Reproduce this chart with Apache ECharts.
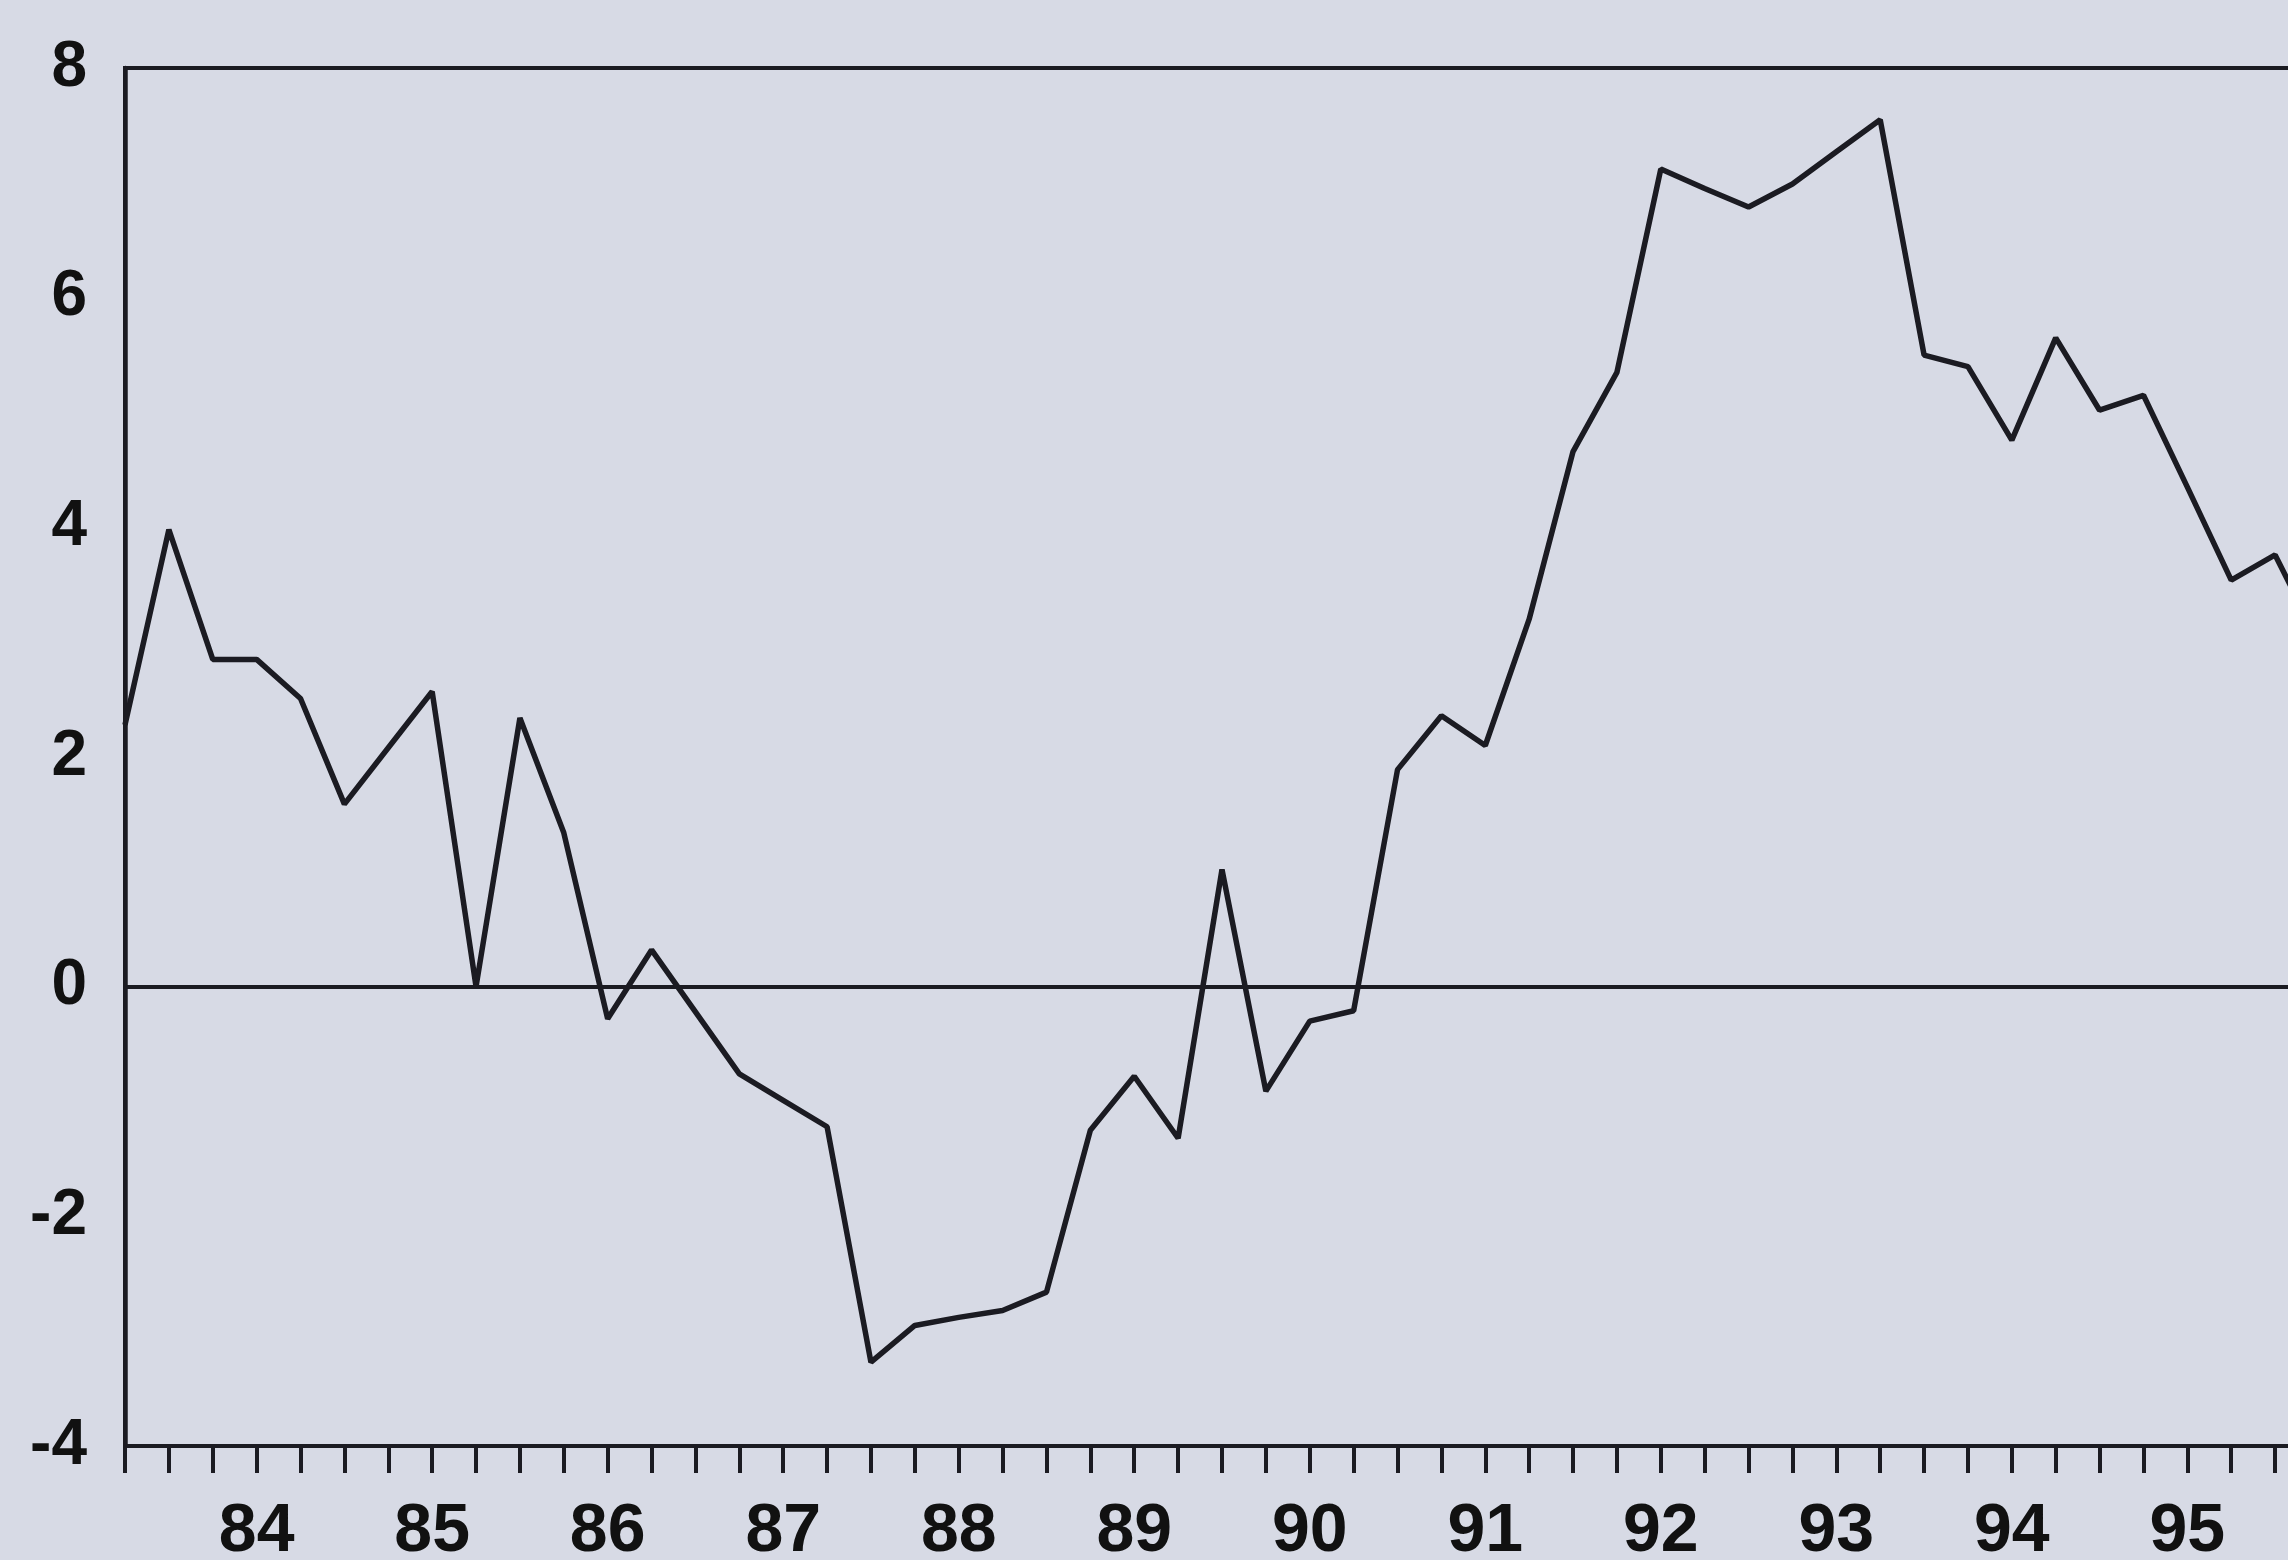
<!DOCTYPE html>
<html>
<head>
<meta charset="utf-8">
<style>
  html, body { margin: 0; padding: 0; background: #d7dae5; }
  #chart { width: 2288px; height: 1560px; }
</style>
<script src="https://cdn.jsdelivr.net/npm/echarts@6/dist/echarts.min.js"></script>
</head>
<body>
<div id="chart"></div>
<script>
// quarterly observations, 1983Q2 .. 1995Q4 (last one runs off the page)
const quarters = [
  '1983Q2', '1983Q3', '1983Q4',
  '1984Q1', '1984Q2', '1984Q3', '1984Q4',
  '1985Q1', '1985Q2', '1985Q3', '1985Q4',
  '1986Q1', '1986Q2', '1986Q3', '1986Q4',
  '1987Q1', '1987Q2', '1987Q3', '1987Q4',
  '1988Q1', '1988Q2', '1988Q3', '1988Q4',
  '1989Q1', '1989Q2', '1989Q3', '1989Q4',
  '1990Q1', '1990Q2', '1990Q3', '1990Q4',
  '1991Q1', '1991Q2', '1991Q3', '1991Q4',
  '1992Q1', '1992Q2', '1992Q3', '1992Q4',
  '1993Q1', '1993Q2', '1993Q3', '1993Q4',
  '1994Q1', '1994Q2', '1994Q3', '1994Q4',
  '1995Q1', '1995Q2', '1995Q3', '1995Q4'
]

const values = [
  2.28, 3.98, 2.85,
  2.85, 2.51, 1.59, 2.08,
  2.57, 0.00, 2.34, 1.34,
  -0.28, 0.32, -0.22, -0.76,
  -0.99, -1.22, -3.27, -2.95,
  -2.88, -2.82, -2.66, -1.25,
  -0.78, -1.32, 1.02, -0.91,
  -0.30, -0.21, 1.89, 2.36,
  2.10, 3.20, 4.66, 5.35,
  7.12, 6.95, 6.79, 6.99,
  7.27, 7.55, 5.50, 5.40,
  4.76, 5.65, 5.02, 5.15,
  4.35, 3.54, 3.76, 3.00
]

const yMin = -4
const yMax = 8
const yStep = 2

const ink = '#1b1b22'
const labelFont = 'Liberation Sans, Arial, Helvetica, sans-serif'

const chart = echarts.init(document.getElementById('chart'), null, { renderer: 'canvas' })

chart.setOption({
  backgroundColor: '#d7dae5',
  animation: false,
  grid: {
    left: 125,
    width: 2194, // wider than the page: the right side is cut off
    top: 68,
    bottom: 114,
    outerBoundsMode: 'none',
    containLabel: false,
    show: true,
    borderColor: ink,
    borderWidth: 4,
    backgroundColor: 'transparent'
  },
  xAxis: {
    type: 'category',
    boundaryGap: false,
    data: quarters,
    axisLine: { show: true, onZero: false, lineStyle: { color: ink, width: 4 } },
    axisTick: {
      show: true,
      interval: 0,
      length: 27,
      lineStyle: { color: ink, width: 4 }
    },
    axisLabel: {
      interval: (idx, val) => val.endsWith('Q1'),
      formatter: val => val.slice(2, 4),
      color: '#111',
      fontFamily: labelFont,
      fontWeight: 'bold',
      fontSize: 68,
      margin: 52
    },
    splitLine: { show: false }
  },
  yAxis: {
    type: 'value',
    min: yMin,
    max: yMax,
    interval: yStep,
    axisLine: { show: true, lineStyle: { color: ink, width: 4.5 } },
    axisTick: { show: false },
    axisLabel: {
      color: '#111',
      fontFamily: labelFont,
      fontWeight: 'bold',
      fontSize: 64,
      margin: 38
    },
    splitLine: { show: false }
  },
  series: [
    {
      type: 'line',
      data: values,
      symbol: 'none',
      lineStyle: { color: ink, width: 5.5 },
      markLine: {
        silent: true,
        symbol: 'none',
        label: { show: false },
        lineStyle: { color: ink, width: 4, type: 'solid' },
        data: [{ yAxis: 0 }]
      }
    }
  ]
})
</script>
</body>
</html>
